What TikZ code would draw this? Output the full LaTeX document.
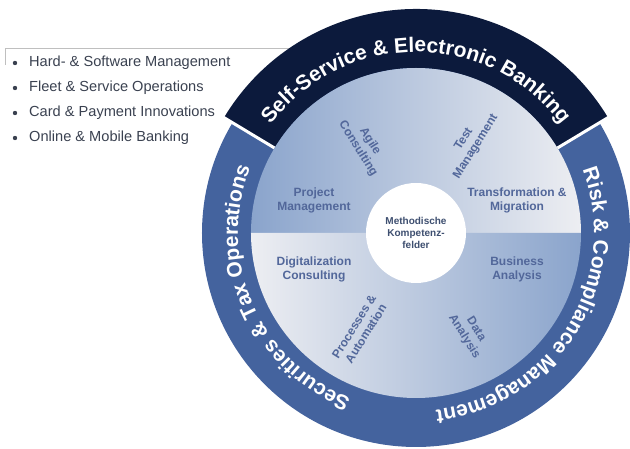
\documentclass[tikz,border=0pt]{standalone}
\usepackage{fontspec}
\setmainfont{Liberation Sans}
\usetikzlibrary{shapes}
\usetikzlibrary{decorations.text}
\definecolor{ringblue}{HTML}{44639E}
\definecolor{ringnavy}{HTML}{0C1A3C}
\definecolor{discblue}{HTML}{8AA4CC}
\definecolor{disclight}{HTML}{EDEEF2}
\definecolor{fieldtext}{HTML}{52679A}
\definecolor{hubtext}{HTML}{3E4F70}
\definecolor{listtext}{HTML}{3A4150}
\newcommand{\RingFont}{\fontsize{21}{25}\selectfont\bfseries\color{white}}
\begin{document}
\begin{tikzpicture}[x = 1pt, y = 1pt]
\tikzstyle{FieldStyle}=[align = center,
                        text = fieldtext,
                        font = \fontsize{12}{14}\selectfont\bfseries,
                        inner sep = 0pt]
\tikzstyle{ItemStyle}=[anchor = west,
                       text = listtext,
                       font = \fontsize{14.6}{17}\selectfont,
                       inner sep = 0pt]
\tikzstyle{GapStyle}=[white, line width = 3pt]
\useasboundingbox (-416,-216) rectangle (214,233);
\draw[gray!50, line width = 0.8pt] (-411,168) -- (-411,185) -- (-120,185);
\fill[listtext] (-401,170) circle (2.2);
\fill[listtext] (-401,145) circle (2.2);
\fill[listtext] (-401,120) circle (2.2);
\fill[listtext] (-401,95) circle (2.2);
\node[ItemStyle] (l0) at (-387,170) {Hard- \& Software Management};
\node[ItemStyle] (l1) at (-387,145) {Fleet \& Service Operations};
\node[ItemStyle] (l2) at (-387,120) {Card \& Payment Innovations};
\node[ItemStyle] (l3) at (-387,95) {Online \& Mobile Banking};
\fill[ringblue] (0,0) circle (214);
\fill[ringnavy] (149:224) arc[start angle = 149, end angle = 31, radius = 224]
  -- (31:165) arc[start angle = 31, end angle = 149, radius = 165] -- cycle;
\draw[GapStyle] (149:165) -- (149:232);
\draw[GapStyle] (31:165) -- (31:232);
\shade[left color = discblue, right color = disclight] (180:165)
  arc[start angle = 180, end angle = 0, radius = 165] -- cycle;
\shade[left color = disclight, right color = discblue] (180:165)
  arc[start angle = 180, end angle = 360, radius = 165] -- cycle;
\path[decorate, decoration = {text along path, text align = center,
  text = {|\RingFont|Self-Service {\&} Electronic Banking}}]
  (149:181) arc[start angle = 149, end angle = 31, radius = 181];
\path[decorate, decoration = {text along path, text align = center,
  text = {|\RingFont|Securities {\&} Tax Operations}}]
  (263.5:178) arc[start angle = 263.5, end angle = 143.5, radius = 178];
\path[decorate, decoration = {text along path, text align = center,
  text = {|\RingFont|Risk {\&} Compliance Management}}]
  (28.5:178) arc[start angle = 28.5, end angle = -91.5, radius = 178];
\node[circle, fill = white, minimum size = 100pt, inner sep = 0pt, align = center,
      text = hubtext, font = \fontsize{10}{11.8}\selectfont\bfseries] (c0) at (0,0)
      {Methodische\\Kompetenz-\\felder};
\node[FieldStyle] (f0) at (-102,33) {Project\\Management};
\node[FieldStyle] (f1) at (101,33) {Transformation \&\\Migration};
\node[FieldStyle] (f2) at (-102,-36) {Digitalization\\Consulting};
\node[FieldStyle] (f3) at (101,-36) {Business\\Analysis};
\node[FieldStyle, rotate = -58] (f4) at (-52,88) {Agile\\Consulting};
\node[FieldStyle, rotate = 58] (f5) at (54,90) {Test\\Management};
\node[FieldStyle, rotate = 58] (f6) at (-56,-97) {Processes \&\\Automation};
\node[FieldStyle, rotate = -58] (f7) at (54,-100) {Data\\Analysis};
\end{tikzpicture}
\end{document}
